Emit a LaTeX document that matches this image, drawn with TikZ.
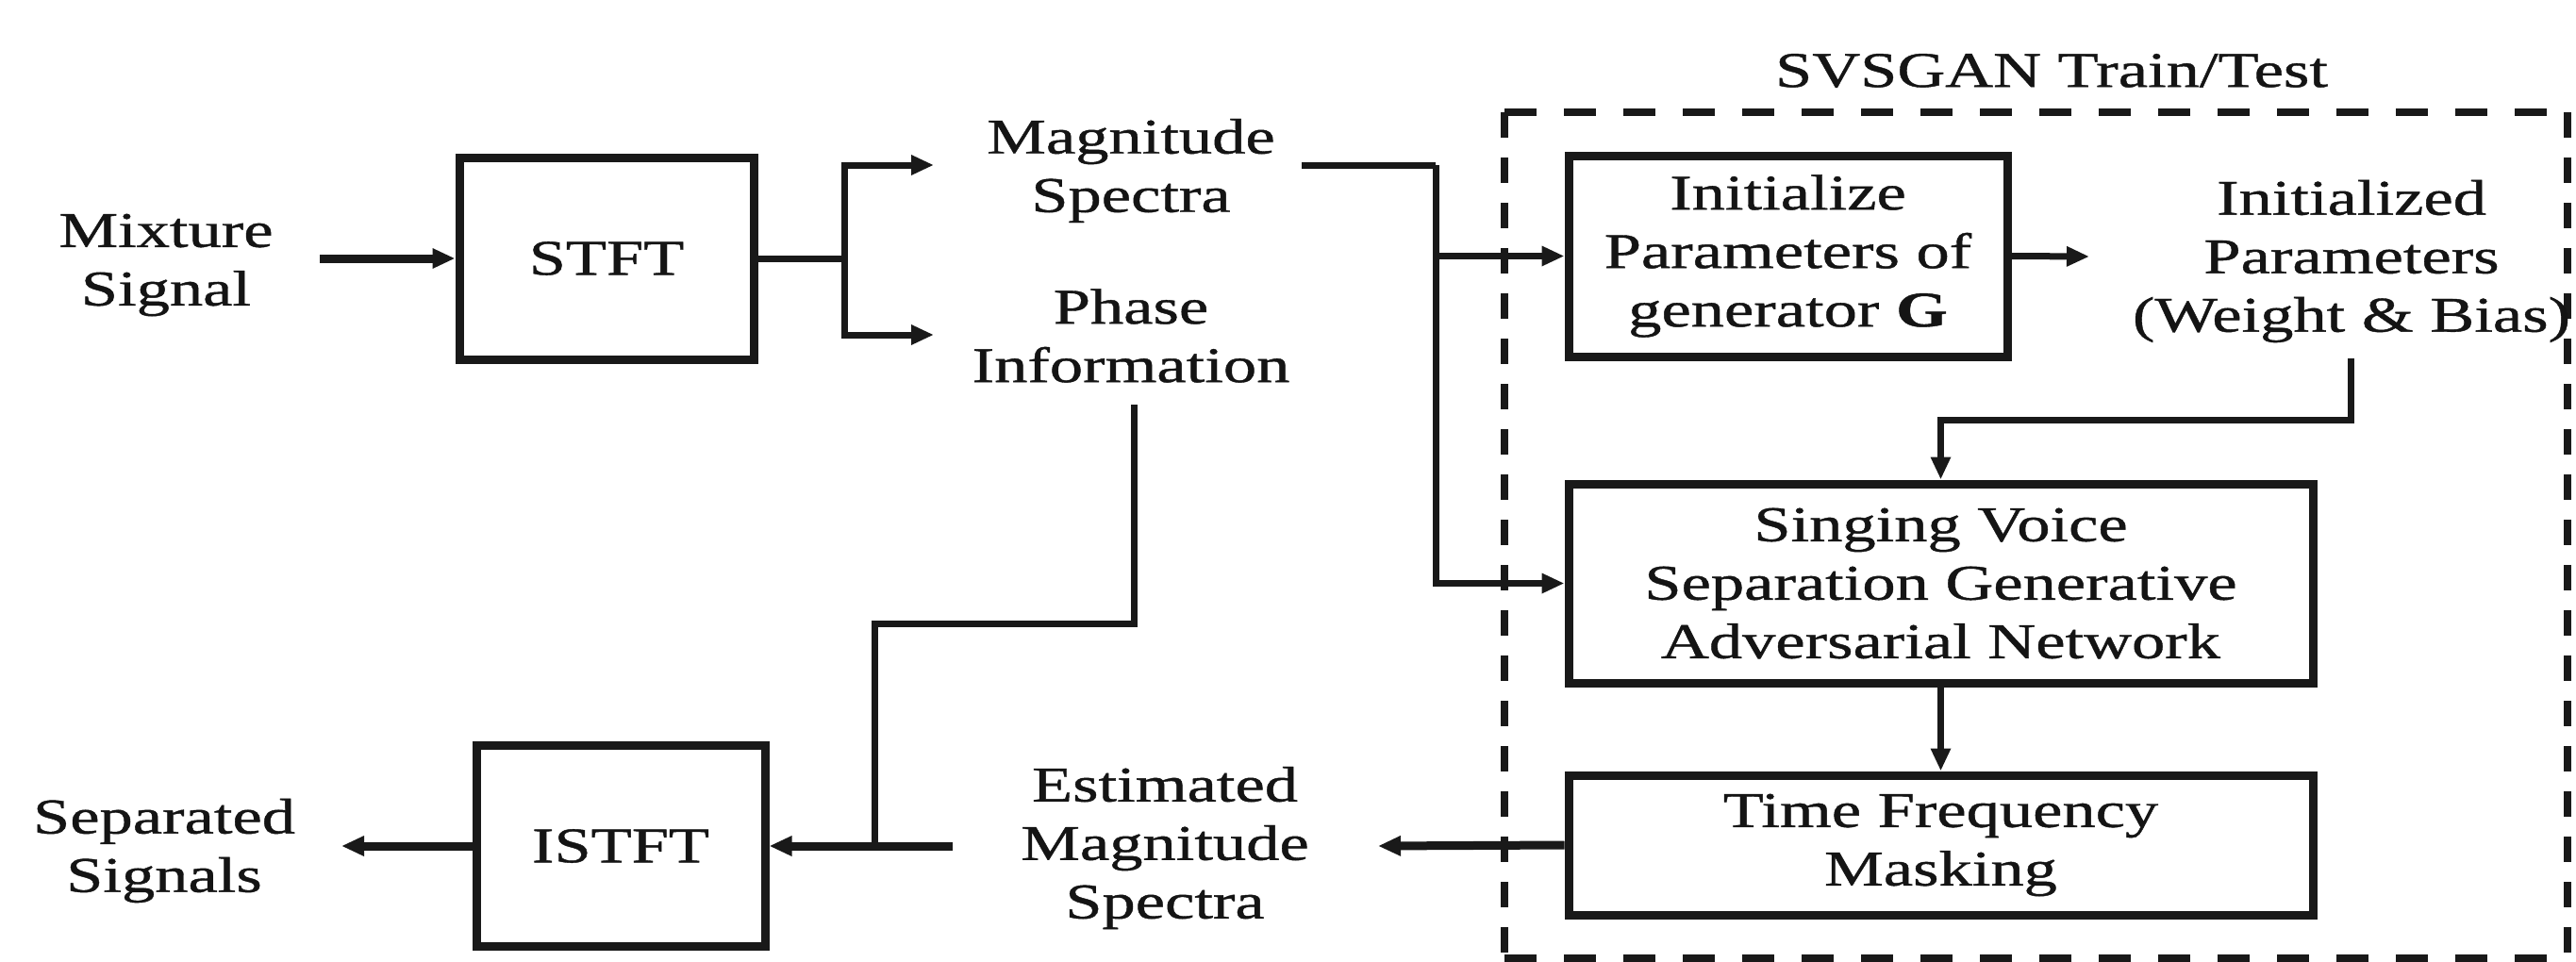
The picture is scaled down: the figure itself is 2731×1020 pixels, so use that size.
\documentclass[tikz,border=0pt]{standalone}
\usepackage{fontspec}
\setmainfont{Liberation Serif}[FakeStretch=1.33, FakeBold=0.8]
\usetikzlibrary{arrows.meta}
\begin{document}
\begin{tikzpicture}[x=1pt,y=-1pt,
  every node/.style={font=\fontsize{53}{62}\selectfont, text=black!92, align=center, inner sep=0pt},
  blk/.style={draw=black!90, line width=9pt, rectangle},
  conn/.style={draw=black!90, line width=7pt},
  thick conn/.style={draw=black!90, line width=9pt},
  arr/.style={-{Triangle[length=24pt,width=20pt]}},
  dashh/.style={draw=black!90, line width=7.5pt, dash pattern=on 34pt off 29pt},
  dashv/.style={draw=black!90, line width=7.5pt, dash pattern=on 27pt off 21pt}]
\useasboundingbox (0,0) rectangle (2731,1020);
\fill[white] (0,0) rectangle (2731,1020);

% dashed SVSGAN region
\coordinate (dtl) at (1595,119);
\coordinate (dtr) at (2722,119);
\coordinate (dbl) at (1595,1016);
\coordinate (dbr) at (2722,1016);
\draw[dashh] (dtl) -- (dtr);
\draw[dashh] (dbl) -- (dbr);
\draw[dashv] (dtl) -- (dbl);
\draw[dashv] (dtr) -- (dbr);
\node (svsgan) at (2175,75) {SVSGAN Train/Test};

% text nodes
\node (mix) at (176,281) {Mixture\\Signal};
\node (mag) at (1199,181) {Magnitude\\Spectra};
\node (pha) at (1199,356) {Phase\\Information};
\node (initp) at (2493,277) {Initialized\\Parameters\\(Weight \& Bias)};
\node (sep) at (174,902) {Separated\\Signals};
\node (est) at (1235,899) {Estimated\\Magnitude\\Spectra};

% blocks
\node[blk, minimum width=312pt, minimum height=214pt] (stft) at (643,274) {STFT};
\node[blk, minimum width=306pt, minimum height=213pt] (istft) at (658,897) {ISTFT};
\node[blk, minimum width=465pt, minimum height=213pt] (init) at (1895.5,271.5) {Initialize\\Parameters of\\generator \textbf{G}};
\node[blk, minimum width=789pt, minimum height=211pt] (svs) at (2057.5,618.5) {Singing Voice\\Separation Generative\\Adversarial Network};
\node[blk, minimum width=789pt, minimum height=148pt] (tf) at (2057.5,896) {Time Frequency\\Masking};

% coordinates for free ends
\coordinate (mixout) at (339,274);
\coordinate (sb) at (895,274);
\coordinate (magin) at (990,175);
\coordinate (phin) at (990,355);
\coordinate (magout) at (1380,175);
\coordinate (mj) at (1522,175);
\coordinate (ipin) at (2215,272);
\coordinate (ipout) at (2492,380);
\coordinate (phout) at (1202,429);
\coordinate (pj) at (927,897);
\coordinate (estout) at (1010,897);
\coordinate (estin) at (1461,897);
\coordinate (sepin) at (362,897);

% connectors
\draw[thick conn, arr] (mixout) -- (stft.west);
\draw[conn] (stft.east) -- (sb);
\draw[conn, arr] (sb) |- (magin);
\draw[conn, arr] (sb) |- (phin);
\draw[conn] (magout) -- (mj);
\draw[conn, arr] (mj) |- (svs.west);
\draw[conn, arr] (mj |- init.west) -- (init.west);
\draw[conn, arr] (init.east) -- (ipin);
\draw[conn, arr] (ipout) -- ++(0,65) -| (svs.north);
\draw[conn, arr] (svs.south) -- (tf.north);
\draw[thick conn, arr] (tf.west) -- (estin);
\draw[thick conn, arr] (estout) -- (istft.east);
\draw[conn] (phout) -- ++(0,232) -| (pj);
\draw[thick conn, arr] (istft.west) -- (sepin);
\end{tikzpicture}
\end{document}
